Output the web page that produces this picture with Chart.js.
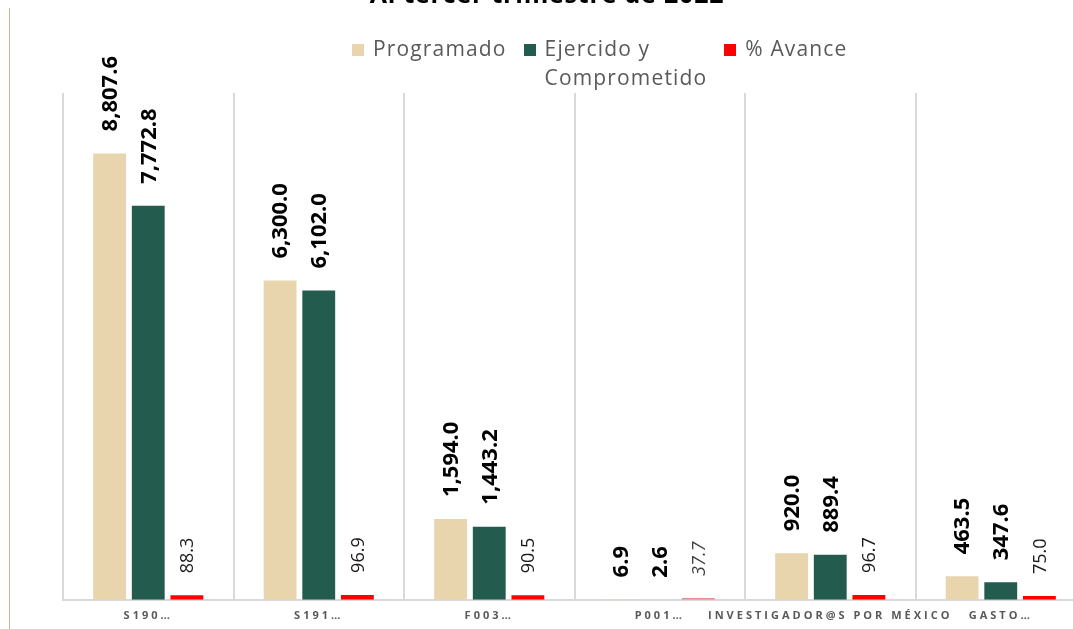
<!DOCTYPE html>
<html>
<head>
<meta charset="utf-8">
<script src="https://cdn.jsdelivr.net/npm/chart.js@4.4.0/dist/chart.umd.min.js"></script>
<style>
  html, body { margin:0; padding:0; background:#fff; overflow:hidden; width:1073px; height:629px; }
  #wrap { position:absolute; left:0; top:0; width:1090px; height:638px; }
  #title { position:absolute; left:0; width:1094px; top:-19px; text-align:center;
           font:bold 25px 'Open Sans'; line-height:25px; letter-spacing:0.8px; color:#000; white-space:nowrap; }
  #rule { position:absolute; left:9px; top:8px; width:1px; bottom:0; background:#CDB58A; }
  #legend { position:absolute; left:352px; top:33.5px; display:flex; align-items:flex-start; gap:17px; }
  #legend .item { display:flex; align-items:flex-start; }
  #legend .sw { display:inline-block; width:12px; height:12px; margin-top:10px; margin-right:9px; flex:none; }
  #legend .tx { font:21px 'Open Sans'; line-height:29px; color:#595959; letter-spacing:1.15px; white-space:pre-line; }
</style>
</head>
<body>
<div id="rule"></div>
<div id="wrap"><canvas id="c"></canvas></div>
<div id="title">Al tercer trimestre de 2022</div>
<div id="legend"></div>
<script>
const categories = ['S190…', 'S191…', 'F003…', 'P001…', 'INVESTIGADOR@S POR MÉXICO', 'GASTO…'];
const programado = [8807.6, 6300.0, 1594.0, 6.9, 920.0, 463.5];
const ejercido   = [7772.8, 6102.0, 1443.2, 2.6, 889.4, 347.6];
const avance     = [88.3, 96.9, 90.5, 37.7, 96.7, 75.0];
const yMax = 10000;

const fmt = v => v.toLocaleString('en-US', {minimumFractionDigits:1, maximumFractionDigits:1});

const htmlLegend = {
  id: 'htmlLegend',
  afterUpdate(chart) {
    const box = document.getElementById('legend');
    box.innerHTML = '';
    chart.data.datasets.forEach(ds => {
      const item = document.createElement('div'); item.className = 'item';
      const sw = document.createElement('span'); sw.className = 'sw';
      sw.style.background = Array.isArray(ds.backgroundColor) ? ds.backgroundColor[0] : ds.backgroundColor;
      const tx = document.createElement('span'); tx.className = 'tx';
      tx.textContent = ds.label;
      item.appendChild(sw); item.appendChild(tx); box.appendChild(item);
    });
  }
};

const valueLabels = {
  id: 'valueLabels',
  beforeDraw(chart) { chart.ctx.letterSpacing = '3px'; },
  beforeDatasetsDraw(chart) { chart.ctx.letterSpacing = '0px'; },
  afterDatasetsDraw(chart) {
    const ctx = chart.ctx;
    chart.data.datasets.forEach((ds, di) => {
      const meta = chart.getDatasetMeta(di);
      meta.data.forEach((el, i) => {
        const italic = ds.labelItalic && ds.labelItalic[i];
        ctx.save();
        ctx.translate(el.x + 1, el.y - 22);
        ctx.rotate(-Math.PI / 2);
        ctx.textAlign = 'left';
        ctx.textBaseline = 'middle';
        ctx.font = (italic ? 'italic ' : '') + ds.labelWeight + ' ' + ds.labelSize + 'px "Open Sans"';
        ctx.fillStyle = (ds.labelColors && ds.labelColors[i]) || '#000';
        ctx.fillText(fmt(ds.data[i]), 0, 0);
        ctx.restore();
      });
    });
  }
};

new Chart(document.getElementById('c'), {
  type: 'bar',
  data: {
    labels: categories,
    datasets: [
      { label: 'Programado', data: programado, backgroundColor: '#E8D5AE',
        labelWeight: 'bold', labelSize: 22 },
      { label: 'Ejercido y\nComprometido', data: ejercido, backgroundColor: '#235B4E',
        labelWeight: 'bold', labelSize: 22 },
      { label: '% Avance', data: avance,
        backgroundColor: ['#FF0000', '#FF0000', '#FF0000', '#F08A8A', '#FF0000', '#FF0000'],
        labelWeight: 'normal', labelSize: 18,
        labelItalic: [false, false, false, true, false, false],
        labelColors: ['#1a1a1a', '#1a1a1a', '#1a1a1a', '#404040', '#1a1a1a', '#1a1a1a'] }
    ]
  },
  options: {
    responsive: true,
    maintainAspectRatio: false,
    animation: false,
    devicePixelRatio: 1,
    layout: { padding: { left: 63, right: 4, top: 93, bottom: 7 } },
    datasets: { bar: { categoryPercentage: 0.68, barPercentage: 0.85, borderWidth: 0 } },
    plugins: { legend: { display: false }, title: { display: false }, tooltip: { enabled: false } },
    scales: {
      x: {
        grid: { offset: true, drawTicks: false, color: '#d9d9d9', lineWidth: 2 },
        border: { color: '#d9d9d9', width: 2 },
        ticks: { color: '#595959', font: { family: 'Open Sans', size: 11, weight: 'bold' },
                 padding: 9, autoSkip: false, maxRotation: 0, minRotation: 0 }
      },
      y: { display: false, min: 0, max: yMax }
    }
  },
  plugins: [htmlLegend, valueLabels]
});
</script>
</body>
</html>
